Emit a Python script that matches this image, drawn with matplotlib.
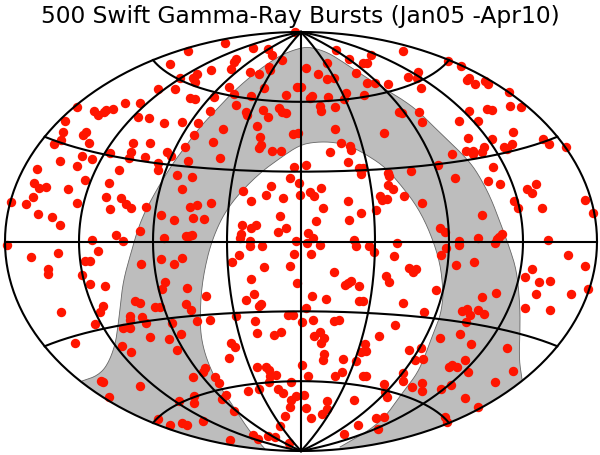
import numpy as np
from matplotlib import pyplot as plt

# title and graticule
title = "500 Swift Gamma-Ray Bursts (Jan05 -Apr10)"
meridians = [-180, -135, -90, -45, 0, 45, 90, 135, 180]
parallels = [-60, -30, 0, 30, 60]

# map centre and half axes, in image pixels
cx, cy = 301.0, 242.5
ax_a, ax_b = 296.0, 209.5

# burst positions on the map
burst_top = [(188,52),(170,65),(180,79),(193,79),(197,75),(195,83),(158,90),(175,90),(190,99),(195,100),
    (77,108),(94,112),(98,116),(104,113),(106,111),(113,110),(125,104),(140,104),(138,118),(149,119),
    (164,124),(182,123),(198,124),(65,122),(63,133),(86,133),(83,136),(54,145),(61,141),(89,144),
    (133,144),(150,144),(194,136),(185,148),
    (295,33),(225,44),(253,49),(268,50),(272,56),(236,60),(234,63),(231,70),(211,71),(282,61),
    (269,68),(270,71),(250,73),(259,75),(306,69),(327,64),(336,51),(349,60),(371,56),(363,64),
    (367,64),(318,75),(327,80),(334,79),(356,74),(367,84),(375,84),(388,85),(229,88),(264,89),
    (297,88),(301,88),(234,95),(214,98),(251,97),(286,96),(310,99),(312,97),(328,98),(346,94),
    (344,100),(364,96),(236,106),(320,107),(321,112),(335,108),(210,112),(263,111),(279,109),(282,113),
    (286,114),(246,113),(247,116),(268,118),(399,113),(223,130),(257,127),(335,130),(293,135),(298,134),
    (384,134),(260,138),(213,143),(261,146),(259,149),(341,144),(350,147),
    (403,52),(448,62),(461,67),(418,73),(408,78),(417,79),(421,89),(469,79),(467,81),(475,85),
    (485,82),(488,85),(509,93),(510,107),(521,108),(487,110),(492,111),(469,112),(402,114),(419,113),
    (422,123),(459,122),(478,122),(513,133),(468,139),(492,140),(543,140),(549,145),(566,148),(512,145),
    (504,148),(507,150),(484,148),(482,153),(466,152),(473,152),(473,155),(452,155)]

burst_mid = [(11,203),(26,205),(33,198),(34,184),(39,189),(46,188),(37,170),(60,162),(82,157),(92,160),
    (77,167),(85,181),(68,190),(77,204),(38,215),(52,218),(60,226),(110,154),(131,153),(129,159),
    (145,158),(167,153),(171,157),(158,164),(158,171),(188,162),(119,171),(109,184),(177,176),(192,178),
    (182,190),(106,198),(121,199),(126,205),(131,209),(110,210),(146,208),(161,216),(190,208),(197,206),
    (174,221),(193,219),(140,232),(116,236),(123,242),(92,241),(164,239),(186,237),(189,237),(192,236),
    (7,246),(31,258),(58,254),(98,252),(85,262),(90,262),(48,270),(48,275),(82,276),(90,285),
    (105,287),(141,265),(161,260),(174,265),(182,259),(165,283),(162,290),(187,289),
    (220,159),(272,152),(281,152),(330,153),(351,151),(294,168),(306,166),(348,163),(359,169),(363,169),
    (361,175),(388,174),(389,177),(290,179),(271,187),(299,184),(321,189),(388,186),(393,190),(243,192),
    (266,196),(283,199),(300,196),(310,193),(314,197),(251,202),(348,202),(380,197),(382,201),(387,200),
    (211,204),(323,209),(376,211),(361,214),(204,220),(280,217),(316,222),(349,221),(242,226),(256,226),
    (251,229),(286,229),(278,233),(241,235),(240,239),(308,234),(313,239),(250,242),(296,242),(354,241),
    (250,247),(262,247),(307,244),(320,246),(356,247),(369,247),(397,244),(374,253),(294,255),(311,255),
    (239,256),(394,257),(232,263),(264,268),(290,267),(334,273),(251,280),(386,277),(389,283),(297,284),
    (351,282),(348,284),(345,286),(359,287),(206,297),(254,295),(312,297),(326,300),
    (493,168),(411,172),(438,166),(455,179),(488,182),(500,185),(536,185),(527,190),(532,194),(404,197),
    (422,204),(514,202),(518,209),(542,209),(585,201),(593,214),(482,216),(440,229),(445,233),(502,235),
    (499,238),(497,240),(478,239),(459,242),(459,246),(548,241),(495,244),(446,249),(441,256),(568,256),
    (456,266),(474,263),(585,267),(532,270),(409,269),(416,270),(413,273),(525,278),(539,283),(550,282),
    (436,291),(588,290),(496,294),(482,298),(536,295),(571,295)]

burst_low = [(61,313),(103,307),(100,313),(95,325),(75,344),(135,302),(140,304),(155,308),(160,308),(186,305),
    (191,311),(130,317),(130,321),(142,318),(146,324),(172,324),(197,322),(123,329),(130,329),(181,335),
    (150,338),(169,340),(122,347),(131,353),(177,351),(193,378),(101,382),(103,383),(140,387),(109,398),
    (179,402),(194,397),(194,404),(158,420),(170,426),(182,424),(187,426),
    (246,301),(259,307),(261,305),(306,309),(359,302),(363,302),(236,317),(210,321),(255,322),(288,316),
    (293,316),(302,323),(313,321),(334,322),(339,321),(395,326),(257,334),(274,336),(281,333),(314,337),
    (320,333),(324,339),(321,344),(379,337),(231,344),(235,348),(365,345),(366,352),(361,353),(324,355),
    (323,361),(229,359),(343,360),(356,362),(257,368),(266,368),(269,371),(302,366),(205,369),(203,373),
    (276,376),(270,377),(269,383),(308,377),(335,377),(342,373),(363,377),(366,377),(215,378),(219,384),
    (291,383),(384,385),(248,392),(259,390),(278,390),(283,394),(226,396),(222,400),(304,396),(296,397),
    (291,401),(327,402),(354,401),(387,398),(385,393),(290,408),(306,409),(327,410),(322,415),(234,412),
    (285,417),(311,419),(376,419),(384,418),(203,422),(280,427),(358,426),(378,430),(344,435),(253,436),
    (258,440),(268,437),(275,438),(230,441),(289,444),
    (403,304),(424,313),(462,312),(467,310),(478,311),(484,315),(470,316),(525,309),(550,311),(466,323),
    (460,335),(440,339),(471,345),(507,349),(409,351),(421,349),(415,361),(423,360),(465,361),(449,368),
    (452,366),(457,368),(468,373),(513,372),(403,374),(403,382),(422,384),(412,388),(422,392),(441,390),
    (451,386),(495,383),(465,399),(478,408),(445,418),(447,423)]

# edges of the grey band
band_outer = [(82,382),(97,377),(107,367),(115,347),(118,327),(120,310),(123,283),(130,257),(140,223),(153,197),
    (171,167),(185,148),(200,128),(217,110),(233,93),(250,78),(267,65),(283,55),(300,49),(310,48),
    (327,53),(343,63),(367,79),(385,90),(400,99),(417,111),(433,127),(450,143),(467,160),(477,173),
    (490,197),(500,223),(510,250),(517,273),(520,307),(520,333),(519,360),(522,380)]
band_inner = [(340,448),(380,425),(403,393),(417,375),(425,357),(433,335),(440,318),(443,300),(443,290),(440,263),
    (430,233),(417,207),(400,185),(385,168),(367,156),(350,147),(333,143),(315,143),(300,146),(283,157),
    (257,176),(228,207),(212,240),(203,277),(200,310),(201,343),(213,377),(233,407),(250,433),(265,450)]


def aitoff(lon, lat):
    # lon, lat in degrees, gives image pixels
    l = np.radians(lon) / 2.0
    p = np.radians(lat)
    alpha = np.arccos(np.cos(p) * np.cos(l))
    s = np.sinc(alpha / np.pi)
    x = 2.0 * np.cos(p) * np.sin(l) / s
    y = np.sin(p) / s
    return cx + ax_a * x / np.pi, cy - ax_b * y / (np.pi / 2.0)


def rim(p0, p1):
    # piece of the map edge between two points, short way round
    t0 = np.arctan2((p0[1] - cy) / ax_b, (p0[0] - cx) / ax_a)
    t1 = np.arctan2((p1[1] - cy) / ax_b, (p1[0] - cx) / ax_a)
    t = np.linspace(t0, t1, 60)
    return cx + ax_a * np.cos(t), cy + ax_b * np.sin(t)


def round_off(pts, n=3):
    # corner cutting so the hand read edge is not jagged, ends stay put
    pts = np.array(pts, dtype=float)
    for i in range(n):
        q = 0.75 * pts[:-1] + 0.25 * pts[1:]
        r = 0.25 * pts[:-1] + 0.75 * pts[1:]
        mid = np.empty((q.shape[0] * 2, 2))
        mid[0::2] = q
        mid[1::2] = r
        pts = np.vstack([pts[0], mid, pts[-1]])
    return pts


fig = plt.figure(figsize=(6.0, 4.56), dpi=100)
ax = fig.add_axes([0, 0, 1, 1])
ax.set_xlim(0, 600)
ax.set_ylim(456, 0)
ax.axis("off")

# grey band, closed along the map edge at the bottom
outer = round_off(band_outer)
inner = round_off(band_inner)
rx1, ry1 = rim(band_outer[-1], band_inner[0])
rx2, ry2 = rim(band_inner[-1], band_outer[0])
bx = np.concatenate([outer[:, 0], rx1, inner[:, 0], rx2])
by = np.concatenate([outer[:, 1], ry1, inner[:, 1], ry2])
ax.fill(bx, by, facecolor="#bdbdbd", edgecolor="none", zorder=1)
ax.plot(outer[:, 0], outer[:, 1], color="#666666", lw=0.6, zorder=1.5)
ax.plot(inner[:, 0], inner[:, 1], color="#666666", lw=0.6, zorder=1.5)

# bursts
pts = np.array(burst_top + burst_mid + burst_low, dtype=float)
ax.scatter(pts[:, 0], pts[:, 1], s=46, color="#ff1500", linewidths=0, zorder=2)

# graticule goes over the dots
lat_line = np.linspace(-90, 90, 181)
for m in meridians:
    gx, gy = aitoff(np.full_like(lat_line, m), lat_line)
    ax.plot(gx, gy, color="black", lw=1.5, zorder=3)
lon_line = np.linspace(-180, 180, 361)
for p in parallels:
    gx, gy = aitoff(lon_line, np.full_like(lon_line, p))
    ax.plot(gx, gy, color="black", lw=1.5, zorder=3)

ax.text(300, 16, title, ha="center", va="center", fontsize=16.8, color="black", family="DejaVu Sans")

fig.savefig("out.png", dpi=100)
